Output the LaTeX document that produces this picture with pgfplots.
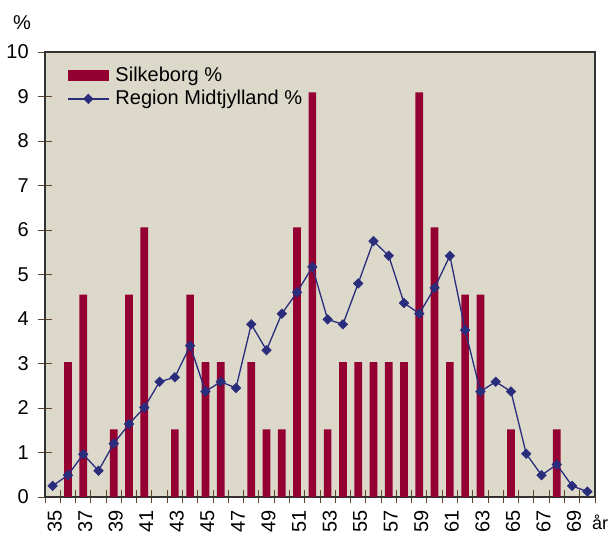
\documentclass[border=0pt]{standalone}
\usepackage{fontspec}
\setmainfont{Liberation Sans}
\usepackage{pgfplots}
\pgfplotsset{compat=1.18}
\definecolor{barc}{RGB}{148,0,50}
\definecolor{linec}{RGB}{42,44,124}
\definecolor{bgc}{RGB}{220,217,203}
\definecolor{tickc}{RGB}{96,70,40}
\begin{document}
\fontsize{20}{24}\selectfont
\begin{tikzpicture}
\useasboundingbox (-45pt,-38pt) rectangle (569pt,497pt);
\begin{axis}[
  scale only axis, width=550pt, height=445pt,
  xmin=34.5, xmax=70.5, ymin=0, ymax=10,
  axis background/.style={fill=bgc},
  axis line style={draw=black!80, line width=1.2pt},
  ytick={0,1,...,10},
  xtick={35,37,...,69},
  minor xtick={34.5,35.5,...,70.5},
  xtick pos=bottom, ytick pos=left,
  tick align=center,
  major tick length=13pt, minor tick length=13pt,
  every tick/.style={draw=tickc, line width=0.9pt},
  every major x tick/.append style={draw=none},
  /pgf/number format/assume math mode=true,
  tick label style={font=\fontsize{20}{24}\selectfont},
  xticklabel style={rotate=90, anchor=east, yshift=-2pt},
  yticklabel style={anchor=east, xshift=-3pt},
  legend style={at={(0,1)}, anchor=north west, xshift=20pt, yshift=-11pt,
    draw=none, fill=none, font=\fontsize{20}{24}\selectfont,
    row sep=1.5pt, inner sep=2pt},
  legend cell align=left,
  clip=false,
]
\addplot[ybar, bar width=7.7pt, fill=barc, draw=none,
  legend image code/.code={\fill[barc] (0pt,-5.5pt) rectangle (41pt,5.5pt); \path (45pt,0pt);}]
coordinates {
(35,0) (36,3.03) (37,4.55) (38,0) (39,1.52) (40,4.55) (41,6.06) (42,0)
(43,1.52) (44,4.55) (45,3.03) (46,3.03) (47,0) (48,3.03) (49,1.52) (50,1.52)
(51,6.06) (52,9.09) (53,1.52) (54,3.03) (55,3.03) (56,3.03) (57,3.03) (58,3.03)
(59,9.09) (60,6.06) (61,3.03) (62,4.55) (63,4.55) (64,0) (65,1.52) (66,0)
(67,0) (68,1.52) (69,0) (70,0)
};
\addlegendentry{Silkeborg \%}
\addplot[color=linec, line width=1.3pt, mark=square*, mark size=3.4pt,
  mark options={rotate=45, fill=linec, line width=0.5pt},
  legend image code/.code={\draw[mark repeat=2,mark phase=2] plot coordinates {(0pt,0pt) (20.5pt,0pt) (41pt,0pt)}; \path (45pt,0pt);}]
coordinates {
(35,0.25) (36,0.49) (37,0.96) (38,0.59) (39,1.20) (40,1.64) (41,2.01) (42,2.59)
(43,2.69) (44,3.40) (45,2.37) (46,2.59) (47,2.45) (48,3.88) (49,3.30) (50,4.12)
(51,4.60) (52,5.17) (53,3.99) (54,3.88) (55,4.80) (56,5.75) (57,5.42) (58,4.36)
(59,4.12) (60,4.70) (61,5.42) (62,3.75) (63,2.37) (64,2.59) (65,2.37) (66,0.97)
(67,0.49) (68,0.73) (69,0.25) (70,0.12)
};
\addlegendentry{Region Midtjylland \%}
\end{axis}
\node[anchor=center, font=\fontsize{20}{24}\selectfont] at (-23pt,474pt) {\%};
\node[anchor=base west, inner sep=0pt, font=\fontsize{18}{22}\selectfont] at (547pt,-33pt) {år};
\end{tikzpicture}
\end{document}
